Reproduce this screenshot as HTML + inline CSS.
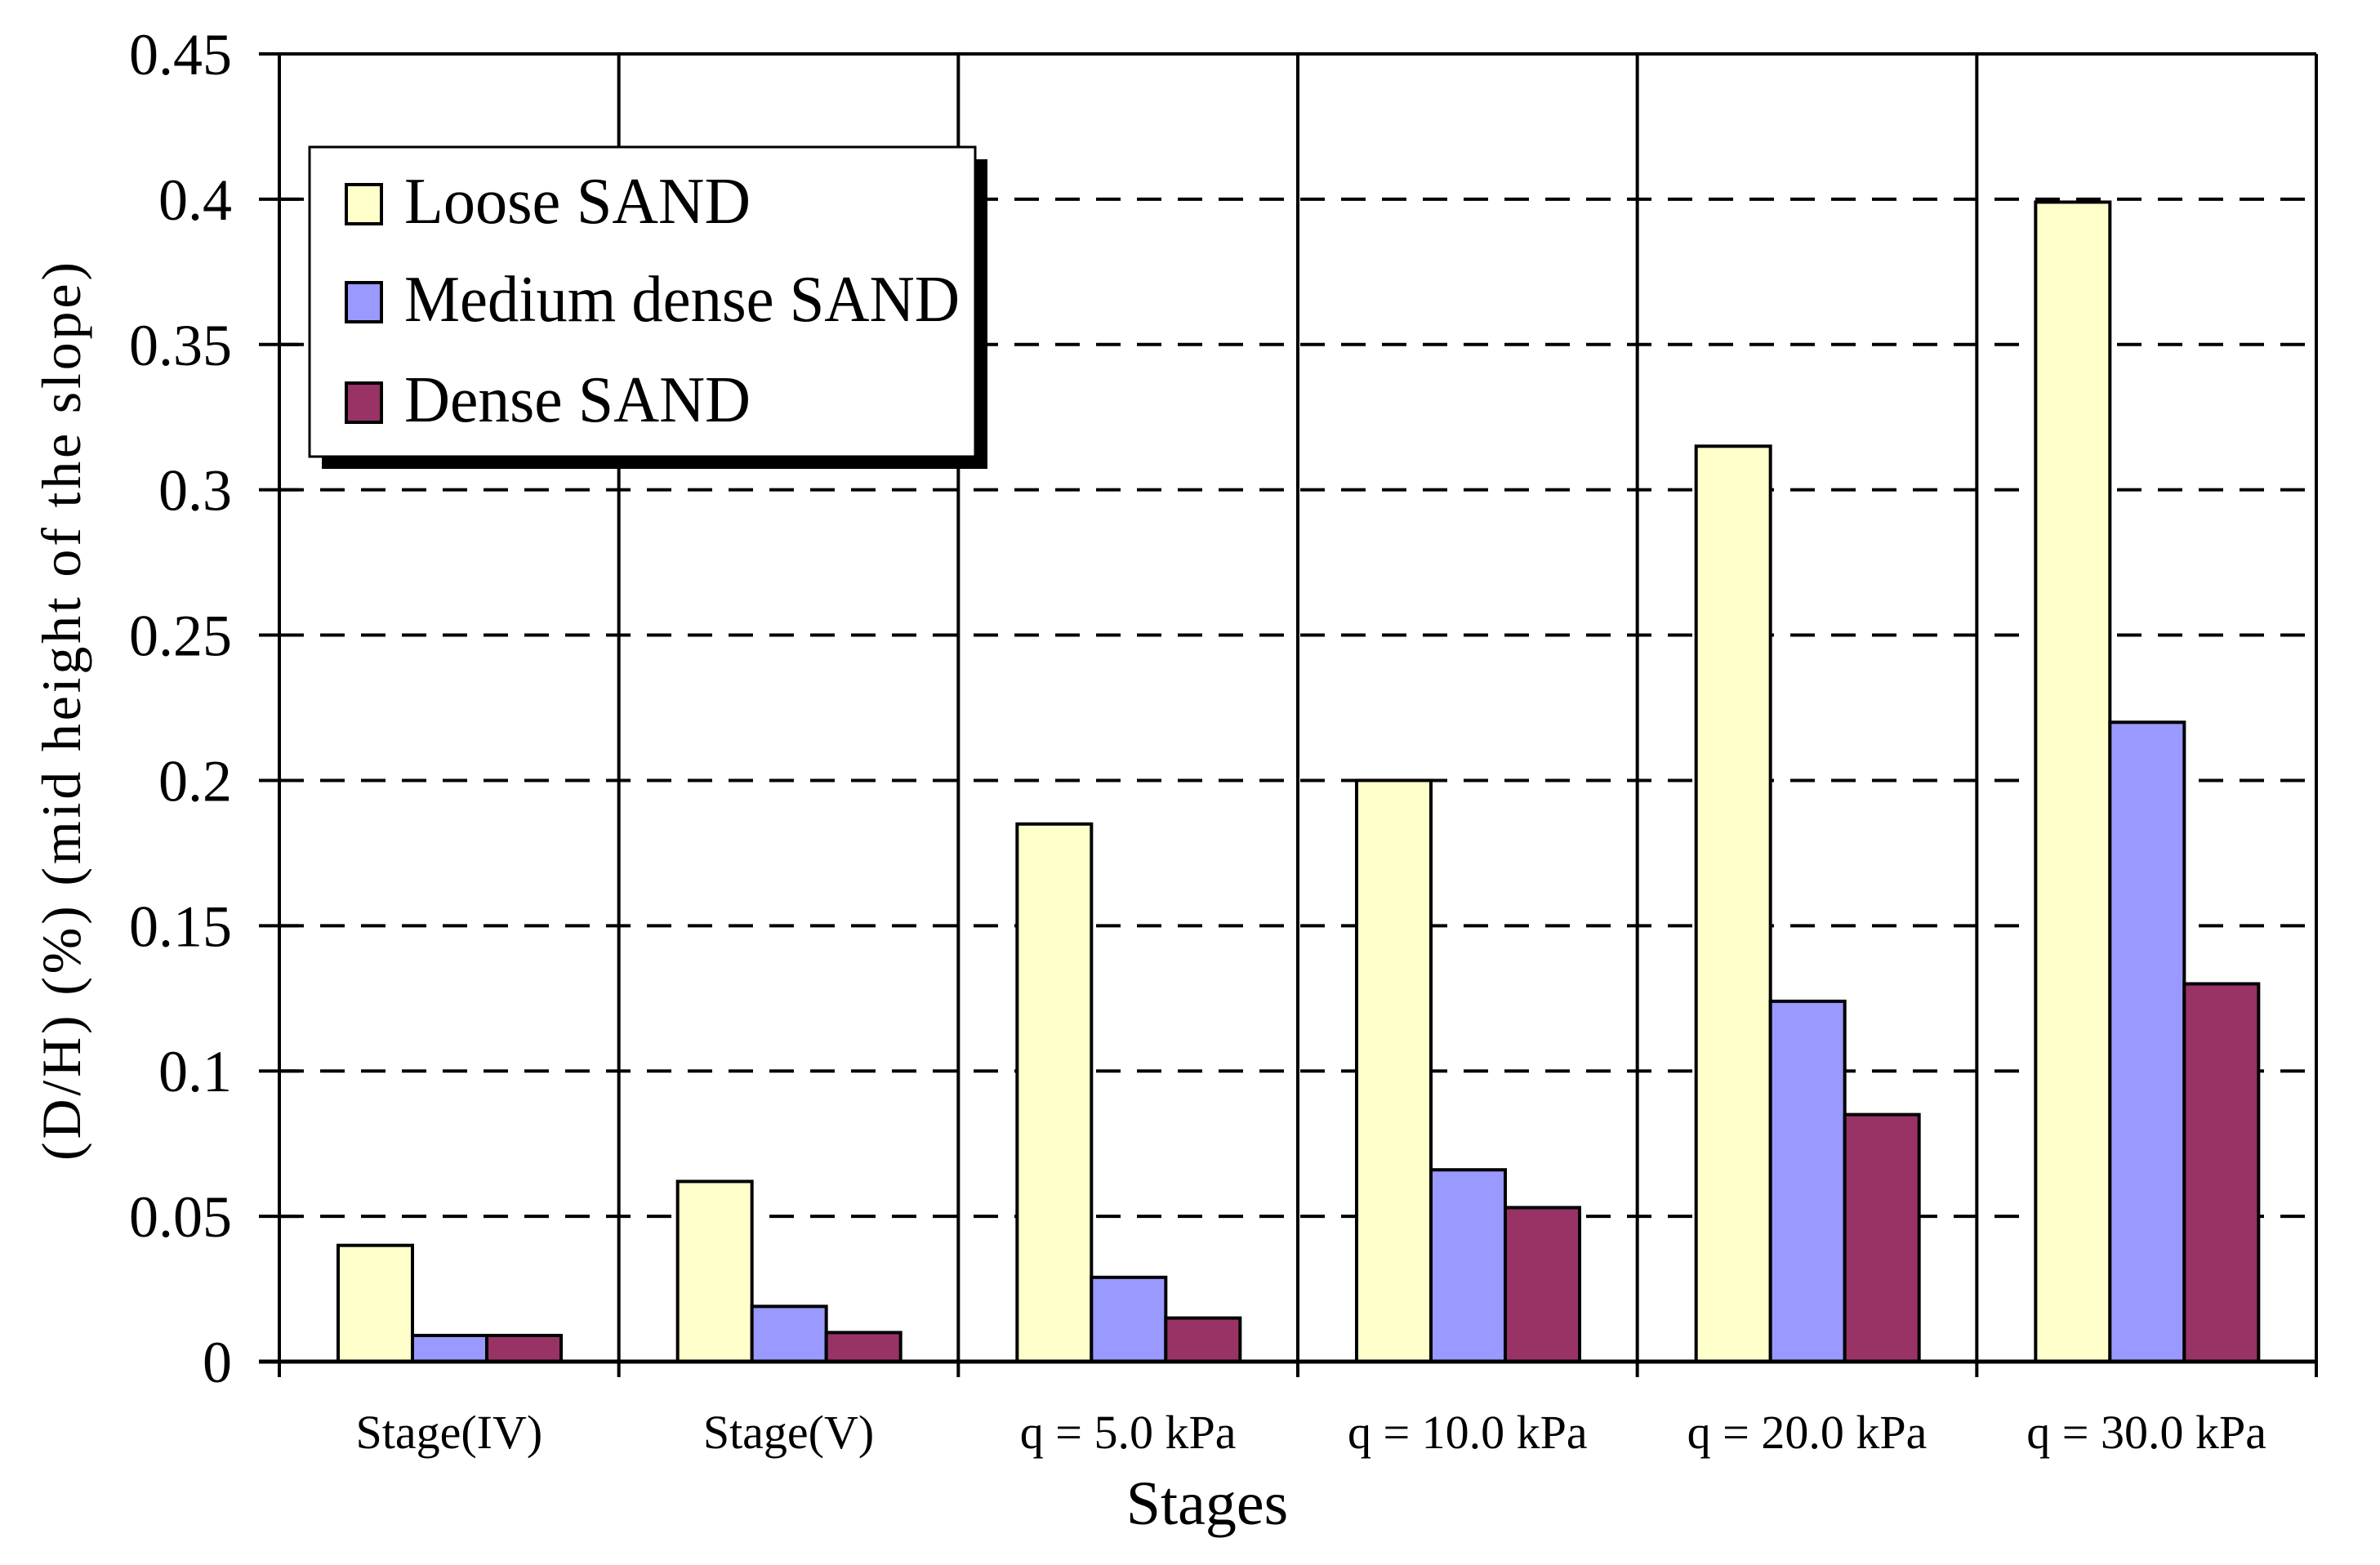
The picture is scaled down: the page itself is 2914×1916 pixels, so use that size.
<!DOCTYPE html>
<html><head><meta charset="utf-8"><style>
body{margin:0;background:#fff}
svg{display:block}
text{font-family:"Liberation Serif",serif;fill:#000}
</style></head><body>
<svg id="chart" width="2914" height="1916" viewBox="0 0 2914 1916" xmlns="http://www.w3.org/2000/svg">
<g id="grid"></g>
<g id="bars"></g>
<g id="axes"></g>
<text x="1478" y="1866" font-size="76" text-anchor="middle">Stages</text>
<text transform="translate(98,871) rotate(-90)" font-size="68" text-anchor="middle" textLength="1100" lengthAdjust="spacing">(D/H) (%) (mid height of the slope)</text>
<g>
<rect x="394" y="195" width="815" height="379" fill="#000"/>
<rect x="379" y="180" width="815" height="379" fill="#fff" stroke="#000" stroke-width="3"/>
<g><rect x="424" y="226" width="43" height="48" fill="#FFFFCC" stroke="#000" stroke-width="4"/><text x="495" y="273" font-size="80" textLength="424" lengthAdjust="spacingAndGlyphs">Loose SAND</text></g>
<g><rect x="424" y="346" width="43" height="48" fill="#9999FF" stroke="#000" stroke-width="4"/><text x="495" y="393" font-size="80" textLength="680" lengthAdjust="spacingAndGlyphs">Medium dense SAND</text></g>
<g><rect x="424" y="469" width="43" height="48" fill="#993366" stroke="#000" stroke-width="4"/><text x="495" y="516" font-size="80" textLength="424" lengthAdjust="spacingAndGlyphs">Dense SAND</text></g>
</g>
</svg>
<script>
const categories=["Stage(IV)","Stage(V)","q = 5.0 kPa","q = 10.0 kPa","q = 20.0 kPa","q = 30.0 kPa"];
const looseValues=[0.040,0.062,0.185,0.200,0.315,0.399];
const mediumValues=[0.009,0.019,0.029,0.066,0.124,0.220];
const denseValues=[0.009,0.010,0.015,0.053,0.085,0.130];
const yTicks=[0,0.05,0.1,0.15,0.2,0.25,0.3,0.35,0.4,0.45];
const yTickLabels=["0","0.05","0.1","0.15","0.2","0.25","0.3","0.35","0.4","0.45"];
const NS="http://www.w3.org/2000/svg";
const L=342,R=2836,T=66,B=1667,yMax=0.45;
const catW=(R-L)/categories.length;
function y(v){return B-(v/yMax)*(B-T);}
function x(i){return L+i*catW;}
function mk(tag,attrs,parent){const e=document.createElementNS(NS,tag);for(const k in attrs)e.setAttribute(k,attrs[k]);parent.appendChild(e);return e;}
const grid=document.getElementById('grid'),bars=document.getElementById('bars'),axes=document.getElementById('axes');
yTicks.forEach((t,i)=>{
  if(t>0&&t<yMax){const g=mk('line',{x1:L,x2:R,y1:y(t),y2:y(t),stroke:'#000','stroke-width':4,'stroke-dasharray':'30 20'},grid);
  
  }
  const tk=mk('line',{x1:317,x2:366,y1:y(t),y2:y(t),stroke:'#000','stroke-width':4},axes);
  
  
  const lb=mk('text',{x:284,y:y(t)+25,'font-size':72,'text-anchor':'end'},axes);
  lb.textContent=yTickLabels[i];
  
  
});
for(let i=0;i<=categories.length;i++){
  const v=mk('line',{x1:x(i),x2:x(i),y1:T,y2:1686,stroke:'#000','stroke-width':4},axes);
  
  
}
const topL=mk('line',{x1:317,x2:R,y1:T,y2:T,stroke:'#000','stroke-width':4},axes);


const series=[[looseValues,'#FFFFCC','loose'],[mediumValues,'#9999FF','medium'],[denseValues,'#993366','dense']];
const bw=91,gap=72;
categories.forEach((c,i)=>{
  series.forEach((s,j)=>{
    const bx=x(i)+gap+j*bw,by=y(s[0][i]);
    const r=mk('rect',{x:bx,y:by,width:bw,height:B-by,fill:s[1],stroke:'#000','stroke-width':4},bars);
    
    
  });
  const lb=mk('text',{x:x(i)+catW/2,y:1773,'font-size':58,'text-anchor':'middle'},axes);
  lb.textContent=c;
  
  
});
const base=mk('line',{x1:317,x2:R,y1:B,y2:B,stroke:'#000','stroke-width':5},axes);


</script>
</body></html>
